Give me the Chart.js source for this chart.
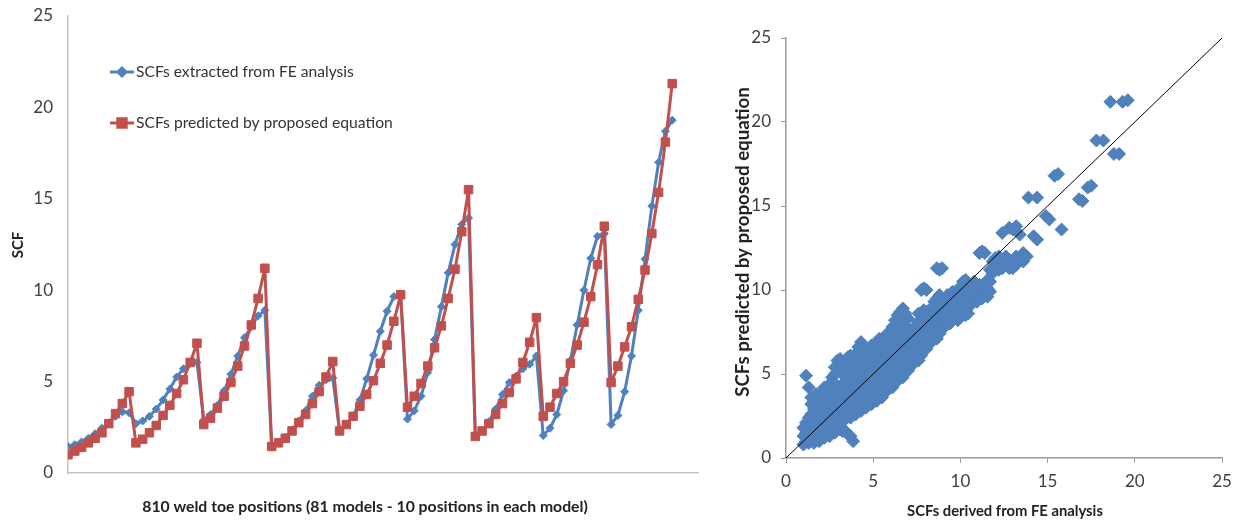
<!DOCTYPE html>
<html>
<head>
<meta charset="utf-8">
<title>SCF comparison</title>
<script src="https://cdn.jsdelivr.net/npm/chart.js@4.4.1/dist/chart.umd.min.js"></script>
<style>
    body { margin: 0; background: #fff; }
    #leftChart { position: absolute; left: 0; top: 0; }
    #rightChart { position: absolute; left: 720px; top: 0; }
</style>
</head>
<body>
<canvas id="leftChart" width="720" height="525"></canvas>
<canvas id="rightChart" width="526" height="525"></canvas>
<script>
// SCFs extracted from FE analysis (90 weld toe positions shown, 9 groups of 10)
const feScf = [
    1.45, 1.55, 1.7, 1.9, 2.15, 2.45, 2.75, 3.1, 3.35, 3.3,
    2.7, 2.85, 3.1, 3.5, 4.0, 4.6, 5.25, 5.7, 6.0, 6.05,
    2.9, 3.2, 3.7, 4.5, 5.4, 6.4, 7.4, 8.0, 8.6, 8.9,
    1.45, 1.65, 1.95, 2.35, 2.85, 3.4, 4.2, 4.8, 5.1, 5.2,
    2.3, 2.65, 3.1, 4.0, 5.15, 6.45, 7.75, 8.85, 9.65, 9.8,
    2.95, 3.4, 4.2, 5.5, 7.3, 9.1, 10.95, 12.5, 13.6, 13.95,
    2.0, 2.3, 2.8, 3.5, 4.3, 4.95, 5.3, 5.7, 5.95, 6.4,
    2.05, 2.45, 3.2, 4.5, 6.15, 8.1, 10.0, 11.75, 12.95, 13.1,
    2.65, 3.15, 4.45, 6.4, 8.9, 11.7, 14.6, 17.0, 18.7, 19.3
];

// SCFs predicted by proposed equation
const eqScf = [
    1.0, 1.2, 1.4, 1.65, 1.9, 2.2, 2.7, 3.25, 3.8, 4.45,
    1.65, 1.85, 2.2, 2.6, 3.15, 3.7, 4.35, 5.1, 6.05, 7.1,
    2.65, 3.0, 3.55, 4.2, 4.95, 5.85, 6.95, 8.1, 9.55, 11.2,
    1.45, 1.65, 1.9, 2.3, 2.75, 3.2, 3.8, 4.45, 5.25, 6.1,
    2.3, 2.65, 3.1, 3.65, 4.3, 5.05, 6.0, 7.0, 8.3, 9.75,
    3.6, 4.2, 4.9, 5.85, 6.85, 8.05, 9.55, 11.15, 13.2, 15.5,
    2.0, 2.3, 2.7, 3.2, 3.8, 4.4, 5.15, 6.05, 7.15, 8.5,
    3.1, 3.6, 4.35, 5.0, 6.0, 7.0, 8.25, 9.65, 11.4, 13.5,
    4.95, 5.85, 6.9, 8.0, 9.5, 11.1, 13.1, 15.35, 18.1, 21.3
];

// scatter: [FE value, predicted value]
const scatterPairs = [
    [1.0, 0.8], [1.0, 1.3], [1.0, 1.8],
    [1.15, 1.0], [1.15, 1.5], [1.15, 2.1], [1.15, 4.9],
    [1.3, 0.9], [1.3, 1.4], [1.3, 1.9], [1.3, 2.4], [1.3, 4.2],
    [1.45, 1.1], [1.45, 1.6], [1.45, 2.1], [1.45, 2.6], [1.45, 3.2], [1.45, 3.6],
    [1.6, 0.9], [1.6, 1.4], [1.6, 1.9], [1.6, 2.4], [1.6, 2.9], [1.6, 3.4],
    [1.75, 1.2], [1.75, 1.7], [1.75, 2.2], [1.75, 2.7], [1.75, 3.2], [1.75, 3.8],
    [1.9, 1.0], [1.9, 1.5], [1.9, 2.0], [1.9, 2.5], [1.9, 3.0], [1.9, 3.5],
    [2.05, 1.3], [2.05, 1.8], [2.05, 2.3], [2.05, 2.8], [2.05, 3.3], [2.05, 3.9],
    [2.2, 1.2], [2.2, 1.7], [2.2, 2.2], [2.2, 2.7], [2.2, 3.2], [2.2, 3.7], [2.2, 4.2],
    [2.35, 1.4], [2.35, 1.9], [2.35, 2.4], [2.35, 2.9], [2.35, 3.4], [2.35, 4.0],
    [2.5, 1.3], [2.5, 1.8], [2.5, 2.3], [2.5, 2.8], [2.5, 3.3], [2.5, 3.8], [2.5, 4.4],
    [2.65, 1.6], [2.65, 2.1], [2.65, 2.6], [2.65, 3.1], [2.65, 3.6], [2.65, 4.2], [2.65, 4.8],
    [2.8, 1.5], [2.8, 2.0], [2.8, 2.5], [2.8, 3.0], [2.8, 3.5], [2.8, 4.0], [2.8, 5.0], [2.8, 5.4],
    [2.95, 1.8], [2.95, 2.3], [2.95, 2.8], [2.95, 3.3], [2.95, 3.8], [2.95, 4.3], [2.95, 5.3], [2.95, 5.8],
    [3.1, 1.7], [3.1, 2.2], [3.1, 2.7], [3.1, 3.2], [3.1, 3.7], [3.1, 4.2], [3.1, 5.6], [3.1, 5.9],
    [3.25, 1.6], [3.25, 2.4], [3.25, 2.9], [3.25, 3.4], [3.25, 3.9], [3.25, 4.4], [3.25, 5.3],
    [3.4, 1.6], [3.4, 2.3], [3.4, 2.8], [3.4, 3.3], [3.4, 3.8], [3.4, 4.3], [3.4, 4.8], [3.4, 5.1],
    [3.55, 1.4], [3.55, 2.5], [3.55, 3.0], [3.55, 3.5], [3.55, 4.0], [3.55, 4.5], [3.55, 5.0], [3.55, 5.5], [3.55, 6.0],
    [3.7, 1.3], [3.7, 2.4], [3.7, 2.9], [3.7, 3.4], [3.7, 3.9], [3.7, 4.4], [3.7, 4.9], [3.7, 5.4], [3.7, 6.1],
    [3.85, 1.0], [3.85, 2.7], [3.85, 3.2], [3.85, 3.7], [3.85, 4.2], [3.85, 4.7], [3.85, 5.2], [3.85, 5.7],
    [4.0, 2.6], [4.0, 3.1], [4.0, 3.6], [4.0, 4.1], [4.0, 4.6], [4.0, 5.1], [4.0, 5.6], [4.0, 6.2],
    [4.15, 2.9], [4.15, 3.4], [4.15, 3.9], [4.15, 4.4], [4.15, 4.9], [4.15, 5.4], [4.15, 5.9], [4.15, 6.6],
    [4.3, 2.8], [4.3, 3.3], [4.3, 3.8], [4.3, 4.3], [4.3, 4.8], [4.3, 5.3], [4.3, 5.8], [4.3, 6.9],
    [4.45, 3.1], [4.45, 3.6], [4.45, 4.1], [4.45, 4.6], [4.45, 5.1], [4.45, 5.6], [4.45, 6.1], [4.45, 6.6],
    [4.6, 3.0], [4.6, 3.5], [4.6, 4.0], [4.6, 4.5], [4.6, 5.0], [4.6, 5.5], [4.6, 6.0],
    [4.75, 3.3], [4.75, 3.8], [4.75, 4.3], [4.75, 4.8], [4.75, 5.3], [4.75, 5.8], [4.75, 6.3],
    [4.9, 3.2], [4.9, 3.7], [4.9, 4.2], [4.9, 4.7], [4.9, 5.2], [4.9, 5.7], [4.9, 6.2], [4.9, 6.7],
    [5.05, 3.5], [5.05, 4.0], [5.05, 4.5], [5.05, 5.0], [5.05, 5.5], [5.05, 6.0], [5.05, 6.5],
    [5.2, 3.4], [5.2, 3.9], [5.2, 4.4], [5.2, 4.9], [5.2, 5.4], [5.2, 5.9], [5.2, 6.4], [5.2, 6.9],
    [5.35, 3.7], [5.35, 4.2], [5.35, 4.7], [5.35, 5.2], [5.35, 5.7], [5.35, 6.2], [5.35, 6.7], [5.35, 7.1],
    [5.5, 3.6], [5.5, 4.1], [5.5, 4.6], [5.5, 5.1], [5.5, 5.6], [5.5, 6.1], [5.5, 6.6], [5.5, 7.0],
    [5.65, 3.9], [5.65, 4.4], [5.65, 4.9], [5.65, 5.4], [5.65, 5.9], [5.65, 6.4], [5.65, 6.9],
    [5.8, 4.0], [5.8, 4.5], [5.8, 5.0], [5.8, 5.5], [5.8, 6.0], [5.8, 6.5], [5.8, 7.0], [5.8, 7.4],
    [5.95, 4.3], [5.95, 4.8], [5.95, 5.3], [5.95, 5.8], [5.95, 6.3], [5.95, 6.8], [5.95, 7.3],
    [6.1, 4.2], [6.1, 4.7], [6.1, 5.2], [6.1, 5.7], [6.1, 6.2], [6.1, 6.7], [6.1, 7.2], [6.1, 7.8],
    [6.25, 4.5], [6.25, 5.0], [6.25, 5.5], [6.25, 6.0], [6.25, 6.5], [6.25, 7.0], [6.25, 7.6], [6.25, 8.2],
    [6.4, 4.6], [6.4, 5.1], [6.4, 5.6], [6.4, 6.1], [6.4, 6.6], [6.4, 7.1], [6.4, 7.7], [6.4, 8.5],
    [6.55, 4.9], [6.55, 5.4], [6.55, 5.9], [6.55, 6.4], [6.55, 6.9], [6.55, 7.4], [6.55, 8.0], [6.55, 8.7],
    [6.7, 4.8], [6.7, 5.3], [6.7, 5.8], [6.7, 6.3], [6.7, 6.8], [6.7, 7.3], [6.7, 8.2], [6.7, 8.9],
    [6.85, 5.1], [6.85, 5.6], [6.85, 6.1], [6.85, 6.6], [6.85, 7.1], [6.85, 7.6], [6.85, 8.6],
    [7.0, 5.2], [7.0, 5.7], [7.0, 6.2], [7.0, 6.7], [7.0, 7.2], [7.0, 7.7], [7.0, 8.3],
    [7.15, 5.5], [7.15, 6.0], [7.15, 6.5], [7.15, 7.0], [7.15, 7.5],
    [7.3, 5.6], [7.3, 6.1], [7.3, 6.6], [7.3, 7.1], [7.3, 7.6],
    [7.45, 5.9], [7.45, 6.4], [7.45, 6.9], [7.45, 7.4], [7.45, 7.9],
    [7.6, 5.8], [7.6, 6.3], [7.6, 6.8], [7.6, 7.3], [7.6, 8.1], [7.6, 8.6],
    [7.75, 6.1], [7.75, 6.6], [7.75, 7.1], [7.75, 7.6], [7.75, 8.5], [7.75, 10.0],
    [7.9, 6.4], [7.9, 6.9], [7.9, 7.4], [7.9, 8.0], [7.9, 8.8], [7.9, 10.1],
    [8.05, 6.5], [8.05, 7.0], [8.05, 7.5], [8.05, 8.1], [8.05, 8.7], [8.05, 10.0],
    [8.2, 6.8], [8.2, 7.3], [8.2, 7.8], [8.2, 8.3], [8.2, 8.8],
    [8.35, 6.9], [8.35, 7.4], [8.35, 7.9], [8.35, 8.4],
    [8.5, 7.2], [8.5, 7.7], [8.5, 8.2], [8.5, 9.3],
    [8.65, 7.1], [8.65, 7.6], [8.65, 8.1], [8.65, 8.6], [8.65, 9.5], [8.65, 11.3],
    [8.8, 7.4], [8.8, 7.9], [8.8, 8.4], [8.8, 8.9], [8.8, 9.7], [8.8, 11.2],
    [8.95, 7.7], [8.95, 8.2], [8.95, 8.7], [8.95, 9.2], [8.95, 11.3],
    [9.1, 7.8], [9.1, 8.3], [9.1, 8.8], [9.1, 9.4],
    [9.25, 8.1], [9.25, 8.6], [9.25, 9.1], [9.25, 9.7],
    [9.4, 8.0], [9.4, 8.5], [9.4, 9.0], [9.4, 9.6],
    [9.55, 8.3], [9.55, 8.8], [9.55, 9.3], [9.55, 9.9],
    [9.7, 8.6], [9.7, 9.1], [9.7, 9.6],
    [9.85, 8.2], [9.85, 8.7], [9.85, 9.2], [9.85, 9.8],
    [10.0, 8.4], [10.0, 8.9], [10.0, 9.4], [10.0, 10.2],
    [10.15, 8.7], [10.15, 9.2], [10.15, 9.7], [10.15, 10.5],
    [10.3, 8.5], [10.3, 9.0], [10.3, 9.5], [10.3, 10.0], [10.3, 10.6],
    [10.45, 8.6], [10.45, 9.4], [10.45, 9.9], [10.45, 10.4],
    [10.6, 9.1], [10.6, 9.6],
    [10.8, 9.5], [10.8, 10.0], [10.8, 10.5],
    [10.95, 9.3], [10.95, 9.6], [10.95, 10.1],
    [11.1, 9.8], [11.1, 10.3], [11.1, 12.2],
    [11.25, 9.5], [11.25, 10.0], [11.25, 12.3],
    [11.4, 9.7], [11.4, 10.4], [11.4, 12.2],
    [11.55, 9.6], [11.55, 10.1], [11.55, 10.6],
    [11.7, 9.9], [11.7, 10.5], [11.7, 11.2],
    [11.85, 11.0], [11.85, 11.7],
    [12.0, 11.4], [12.0, 11.9],
    [12.2, 11.2], [12.2, 11.7], [12.2, 12.0],
    [12.4, 11.3], [12.4, 11.8], [12.4, 13.4],
    [12.6, 11.5], [12.6, 12.0],
    [12.8, 11.3], [12.8, 11.8], [12.8, 13.7],
    [13.0, 11.3], [13.0, 11.6], [13.0, 13.6],
    [13.2, 11.5], [13.2, 12.0], [13.2, 13.8],
    [13.4, 11.8], [13.4, 13.3],
    [13.6, 11.7], [13.6, 12.2],
    [13.8, 12.0], [13.9, 15.5],
    [14.2, 13.2], [14.4, 13.0], [14.4, 15.5],
    [14.9, 14.4], [15.1, 14.2],
    [15.4, 16.8], [15.6, 16.9], [15.8, 13.6],
    [16.8, 15.4], [17.0, 15.3],
    [17.3, 16.1], [17.5, 16.2],
    [17.8, 18.9], [18.2, 18.9],
    [18.6, 21.2], [18.8, 18.1], [19.1, 18.1],
    [19.3, 21.2], [19.6, 21.3]
];

const scfTicks = [0, 5, 10, 15, 20, 25];
const equalityLine = [[0, 0], [25, 25]];

const FONT = "Lato, 'Open Sans', sans-serif";
const BLUE = '#4F81BD';
const RED = '#C0504D';
const TICK_COLOR = '#404040';

// Draw free text (axis titles) at fixed spots, fitting font size to a target width
const extraText = {
    id: 'extraText',
    afterDraw(chart, args, opts) {
        const ctx = chart.ctx;
        (opts.items || []).forEach(t => {
            ctx.save();
            let size = t.size;
            if (t.width) {
                ctx.font = `${t.weight} ${size}px ${FONT}`;
                size = size * t.width / ctx.measureText(t.text).width;
            }
            ctx.font = `${t.weight} ${size}px ${FONT}`;
            ctx.fillStyle = t.color;
            ctx.textAlign = t.align || 'center';
            ctx.textBaseline = 'middle';
            ctx.translate(t.x, t.y);
            if (t.rotate) ctx.rotate(t.rotate);
            ctx.fillText(t.text, 0, 0);
            ctx.restore();
        });
    }
};

// Legend drawn inside the plot area, like the original
const insideLegend = {
    id: 'insideLegend',
    afterDraw(chart, args, opts) {
        const ctx = chart.ctx;
        (opts.items || []).forEach(it => {
            const ds = chart.data.datasets[it.dataset];
            ctx.save();
            ctx.strokeStyle = ds.borderColor;
            ctx.lineWidth = ds.borderWidth;
            ctx.beginPath();
            ctx.moveTo(it.x, it.y);
            ctx.lineTo(it.x + 24, it.y);
            ctx.stroke();
            Chart.helpers.drawPoint(ctx, {
                pointStyle: ds.pointStyle,
                radius: ds.pointRadius,
                rotation: 0,
                borderWidth: 1
            }, it.x + 12, it.y);
            ctx.fillStyle = ds.backgroundColor;
            ctx.fill();
            let size = 16;
            ctx.font = `normal ${size}px ${FONT}`;
            size = size * it.width / ctx.measureText(ds.label).width;
            ctx.font = `normal ${size}px ${FONT}`;
            ctx.fillStyle = '#333';
            ctx.textAlign = 'left';
            ctx.textBaseline = 'middle';
            ctx.fillText(ds.label, it.x + 26, it.y);
            ctx.restore();
        });
    }
};

// Left chart: SCF per weld toe position
new Chart(document.getElementById('leftChart'), {
    type: 'line',
    data: {
        datasets: [{
            label: 'SCFs predicted by proposed equation',
            data: eqScf.map((v, i) => ({ x: i, y: v })),
            borderColor: RED,
            backgroundColor: RED,
            borderWidth: 3,
            borderJoinStyle: 'round',
            pointStyle: 'rect',
            pointRadius: 6,
            pointBorderWidth: 1,
            tension: 0
        }, {
            label: 'SCFs extracted from FE analysis',
            data: feScf.map((v, i) => ({ x: i, y: v })),
            borderColor: BLUE,
            backgroundColor: BLUE,
            borderWidth: 3,
            borderJoinStyle: 'round',
            pointStyle: 'rectRot',
            pointRadius: 4,
            pointBorderWidth: 1,
            tension: 0
        }]
    },
    options: {
        responsive: false,
        animation: false,
        layout: { padding: { top: 16, right: 22, left: 0, bottom: 0 } },
        scales: {
            x: {
                type: 'linear',
                min: 0,
                max: 92.8,
                grid: { display: false },
                border: { display: true, color: '#c4c4c4', width: 1.5 },
                ticks: { display: false },
                afterFit: s => { s.height = 52; }
            },
            y: {
                min: 0,
                max: 25,
                afterBuildTicks: s => { s.ticks = scfTicks.map(v => ({ value: v })); },
                // invisible tick marks keep the labels clear of the axis
                grid: { drawOnChartArea: false, drawTicks: true, tickLength: 13, color: 'rgba(0,0,0,0)' },
                border: { display: true, color: '#c4c4c4', width: 1.5 },
                ticks: { color: TICK_COLOR, padding: 2, font: { family: FONT, size: 17 } },
                afterFit: s => { s.width = 68; }
            }
        },
        plugins: {
            legend: { display: false },
            tooltip: { enabled: false },
            insideLegend: {
                items: [
                    { dataset: 1, x: 110, y: 72, width: 218 },
                    { dataset: 0, x: 110, y: 123, width: 257 }
                ]
            },
            extraText: {
                items: [
                    { text: 'SCF', x: 18, y: 245, rotate: -Math.PI / 2, weight: 'bold', size: 15, color: '#222' },
                    { text: '810 weld toe positions (81 models - 10 positions in each model)', x: 365, y: 507,
                      weight: 'bold', size: 15, width: 446, color: '#222' }
                ]
            }
        }
    },
    plugins: [extraText, insideLegend]
});

// Right chart: predicted vs FE
new Chart(document.getElementById('rightChart'), {
    type: 'scatter',
    data: {
        datasets: [{
            label: 'equality',
            data: equalityLine.map(p => ({ x: p[0], y: p[1] })),
            showLine: true,
            borderColor: '#000',
            borderWidth: 1,
            pointRadius: 0
        }, {
            label: 'SCFs',
            data: scatterPairs.map(p => ({ x: p[0], y: p[1] })),
            pointStyle: 'rectRot',
            pointRadius: 6.5,
            backgroundColor: BLUE,
            borderColor: BLUE,
            borderWidth: 1
        }]
    },
    options: {
        responsive: false,
        animation: false,
        layout: { padding: { top: 38, right: 24, left: 0, bottom: 0 } },
        scales: {
            x: {
                min: 0,
                max: 25,
                afterBuildTicks: s => { s.ticks = scfTicks.map(v => ({ value: v })); },
                grid: { drawOnChartArea: false, drawTicks: true, tickLength: 5, color: '#9a9a9a' },
                border: { color: '#9a9a9a', width: 1.5 },
                ticks: { color: TICK_COLOR, padding: 8, font: { family: FONT, size: 17 } },
                afterFit: s => { s.height = 67; }
            },
            y: {
                min: 0,
                max: 25,
                afterBuildTicks: s => { s.ticks = scfTicks.map(v => ({ value: v })); },
                grid: { drawOnChartArea: false, drawTicks: true, tickLength: 5, color: '#9a9a9a' },
                border: { color: '#9a9a9a', width: 1.5 },
                ticks: { color: TICK_COLOR, padding: 10, font: { family: FONT, size: 17 } },
                afterFit: s => { s.width = 66; }
            }
        },
        plugins: {
            legend: { display: false },
            tooltip: { enabled: false },
            extraText: {
                items: [
                    { text: 'SCFs predicted by proposed equation', x: 23, y: 242, rotate: -Math.PI / 2,
                      weight: 'bold', size: 14, width: 310, color: '#222' },
                    { text: 'SCFs derived from FE analysis', x: 285, y: 511,
                      weight: 'bold', size: 14, width: 196, color: '#222' }
                ]
            }
        }
    },
    plugins: [extraText]
});
</script>
</body>
</html>
